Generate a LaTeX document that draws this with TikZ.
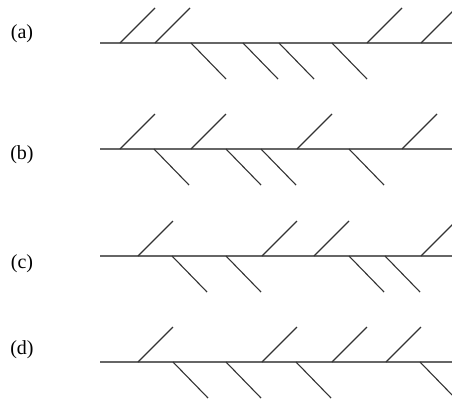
\documentclass[tikz,border=0pt]{standalone}
\usepackage{fontspec}
\setmainfont{Liberation Serif}
\begin{document}
\begin{tikzpicture}[x=1pt,y=-1pt,
  axisline/.style={draw=black!60,line width=1.7pt},
  barb/.style={draw=black!80,line width=1.1pt},
  lbl/.style={font=\fontsize{20}{22}\selectfont,inner sep=0pt}]
\useasboundingbox (0,0) rectangle (452,402);
\clip (0,0) rectangle (452,402);
% (a)
\node[lbl] (la) at (22,34) {(a)};
\draw[axisline] (100,43) -- (452,43);
\foreach \x in {120,155,367,421} \draw[barb] (\x,43) -- ++(35,-35);
\foreach \x in {191,243,279,332} \draw[barb] (\x,43) -- ++(35,36);
% (b)
\node[lbl] (lb) at (22,155) {(b)};
\draw[axisline] (100,149) -- (452,149);
\foreach \x in {120,191,297,402} \draw[barb] (\x,149) -- ++(35,-35);
\foreach \x in {154,226,261,349} \draw[barb] (\x,149) -- ++(35,36);
% (c)
\node[lbl] (lc) at (22,264) {(c)};
\draw[axisline] (100,256) -- (452,256);
\foreach \x in {138,262,314,421} \draw[barb] (\x,256) -- ++(35,-35);
\foreach \x in {172,226,349,385} \draw[barb] (\x,256) -- ++(35,36);
% (d)
\node[lbl] (ld) at (22,350) {(d)};
\draw[axisline] (100,362) -- (452,362);
\foreach \x in {138,262,332,386} \draw[barb] (\x,362) -- ++(35,-35);
\foreach \x in {173,226,296,420} \draw[barb] (\x,362) -- ++(35,36);
\end{tikzpicture}
\end{document}
